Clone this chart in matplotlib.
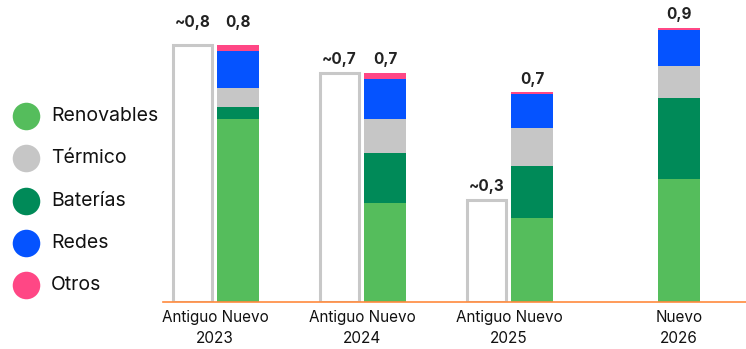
import numpy as np
import matplotlib.pyplot as plt

plt.rcParams['font.family'] = ['Inter', 'DejaVu Sans']

# categories and colours of the stacked "Nuevo" bars
categorias = ["Renovables", "Térmico", "Baterías", "Redes", "Otros"]
colores = ["#55bd5c", "#c6c6c6", "#008a58", "#0553ff", "#ff4785"]

anios = ["2023", "2024", "2025", "2026"]
# values per category, one per year
renovables = [0.59, 0.32, 0.27, 0.397]
termico = [0.06, 0.11, 0.12, 0.105]
baterias = [0.04, 0.16, 0.17, 0.26]
redes = [0.12, 0.13, 0.11, 0.115]
otros = [0.02, 0.02, 0.007, 0.008]

# previous estimate (no "Antiguo" bar for 2026)
antiguo = [0.83, 0.74, 0.33, None]

fig = plt.figure(figsize=(7.46, 3.49), dpi=100)
ax = fig.add_axes([163 / 746, 47 / 349, 583 / 746, 292 / 349])

x = np.arange(len(anios))
ancho = 0.286
desp = 0.31

# stack order bottom -> top: renovables, baterias, termico, redes, otros
orden = [(renovables, 0), (baterias, 2), (termico, 1), (redes, 3), (otros, 4)]
base = np.zeros(len(anios))
for serie, i in orden:
    ax.bar(x, serie, ancho, bottom=base, color=colores[i], linewidth=0)
    base = base + np.array(serie)

totales = base
sep = [10.5, 4, 4, 4]
for xi, t, e in zip(x, totales, sep):
    ax.annotate(f"{t:.1f}".replace(".", ","), (xi, t), xytext=(0, e),
                textcoords="offset points", ha="center", va="bottom",
                fontsize=11, fontweight="bold", color="#222222")

for xi, a, e in zip(x, antiguo, sep):
    if a is None:
        continue
    ax.bar(xi - desp, a, ancho - 0.02, facecolor="white", edgecolor="#c8c8c8",
           linewidth=2.2)
    ax.annotate("~" + f"{a:.1f}".replace(".", ","), (xi - desp, a),
                xytext=(0, e), textcoords="offset points", ha="center",
                va="bottom", fontsize=11, fontweight="bold", color="#222222")

# x labels: pairs centred between the two bars
posiciones = [xi - desp / 2 if a is not None else xi for xi, a in zip(x, antiguo)]
etiquetas = [("Antiguo Nuevo\n" if a is not None else "Nuevo\n") + y
             for y, a in zip(anios, antiguo)]
ax.set_xticks(posiciones)
ax.set_xticklabels(etiquetas, fontsize=11, color="#111111", linespacing=1.45)
ax.tick_params(axis="x", length=0, pad=6)
ax.set_yticks([])

ax.set_xlim(-0.51, 3.456)
ax.set_ylim(0, 0.942)
for s in ["top", "right", "left"]:
    ax.spines[s].set_visible(False)
ax.spines["bottom"].set_color("#ff8a3d")
ax.spines["bottom"].set_linewidth(1.2)

# legend drawn in pixel coordinates on the left
leg = fig.add_axes([0, 0, 163 / 746, 1])
leg.set_xlim(0, 163)
leg.set_ylim(349, 0)
leg.axis("off")
for k, (nombre, c) in enumerate(zip(categorias, colores)):
    yk = 116 + k * 42.3
    leg.scatter([25.5], [yk], s=27 ** 2 * 0.54, color=c, linewidth=0)
    leg.text(51, yk, nombre, va="center", ha="left", fontsize=14, color="#111111")

fig.savefig("out.png", dpi=100)
